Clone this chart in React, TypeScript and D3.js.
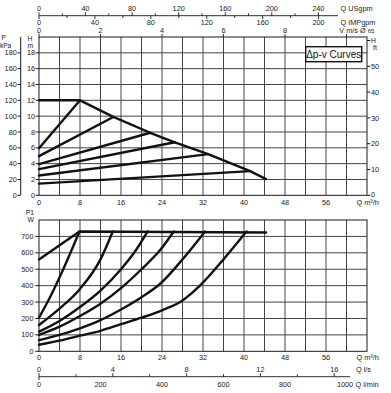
import * as d3 from "d3";

// ---- data ----
const qTicks = [0, 8, 16, 24, 32, 40, 48, 56];
const hTicks = [0, 2, 4, 6, 8, 10, 12, 14, 16, 18];
const kpaTicks = [0, 20, 40, 60, 80, 100, 120, 140, 160, 180];
const ftTicks = [0, 10, 20, 30, 40, 50];
const pTicks = [0, 100, 200, 300, 400, 500, 600, 700];
const usTicks = [0, 40, 80, 120, 160, 200, 240];
const impTicks = [0, 40, 80, 120, 160, 200];
const vTicks = [0, 2, 4, 6, 8];
const lsTicks = [0, 4, 8, 12, 16];
const lminTicks = [0, 200, 400, 600, 800, 1000];

// max head curve, Q m3/h vs H m
const maxHead: [number, number][] = [
  [0, 12], [8, 12], [14.5, 9.9], [21.7, 7.9], [26.5, 6.7], [33, 5.2], [41.2, 3.05], [44.3, 2.05],
];
// delta p-v lines: head at Q=0, end point on max curve
const dpvStart = [5.95, 4.95, 3.95, 3.3, 2.5, 1.47];
const dpvEnd: [number, number][] = [
  [8, 12], [14.5, 9.9], [21.7, 7.9], [26.5, 6.7], [33, 5.2], [41.2, 3.05],
];

// power P1 W
const maxPower: [number, number][] = [[0, 560], [7.9, 730], [44.3, 724]];
const powerCurves: [number, number][][] = [
  [[0, 205], [2, 320], [4, 450], [6, 590], [7.9, 730]],
  [[0, 160], [4, 260], [8, 380], [12, 560], [14.4, 730]],
  [[0, 120], [4, 185], [8, 270], [12, 370], [16, 500], [19, 620], [21.2, 730]],
  [[0, 100], [4, 150], [8, 215], [12, 290], [16, 385], [20, 500], [23.6, 615], [26.3, 730]],
  [[0, 68], [4, 100], [8, 140], [12, 190], [16, 255], [20, 330], [23.6, 410], [28.2, 567], [32.4, 730]],
  [[0, 40], [4, 65], [8, 95], [12, 125], [16, 165], [20, 205], [24, 250], [28, 310], [31.4, 400], [36, 560], [40.5, 730]],
];

const X0 = 39;
const X1 = 367;
const font = "'Liberation Sans', Arial, sans-serif";
const ink = "#1a1a1a";
const gridC = "#444";

export default function App() {
  const x = d3.scaleLinear().domain([0, 64]).range([X0, X1]);
  const yH = d3.scaleLinear().domain([0, 20]).range([195.3, 37]);
  const yKpa = d3.scaleLinear().domain([0, 200]).range([195.3, 37]);
  const yFt = d3.scaleLinear().domain([0, 60]).range([195.3, 40.5]);
  const yP = d3.scaleLinear().domain([0, 800]).range([351.3, 220]);
  const xUs = d3.scaleLinear().domain([0, 64 * 4.403]).range([X0, X1]);
  const xImp = d3.scaleLinear().domain([0, 64 * 3.666]).range([X0, X1]);
  const xV = d3.scaleLinear().domain([0, 64 / 6]).range([X0, X1]);
  const xLs = d3.scaleLinear().domain([0, 64 / 3.6]).range([X0, X1]);
  const xLmin = d3.scaleLinear().domain([0, 64 * 16.667]).range([X0, X1]);

  const lineH = d3.line<[number, number]>().x((d) => x(d[0])).y((d) => yH(d[1]));
  const lineP = d3.line<[number, number]>().x((d) => x(d[0])).y((d) => yP(d[1]));
  const curveP = d3
    .line<[number, number]>()
    .x((d) => x(d[0]))
    .y((d) => yP(d[1]))
    .curve(d3.curveMonotoneX);

  const vGrid = d3.range(4, 64, 4);
  const hGrid = d3.range(2, 20, 2);
  const pGrid = d3.range(100, 800, 100);

  const txt = { fontFamily: font, fontSize: 7.3, fill: ink };
  const small = { fontFamily: font, fontSize: 6.8, fill: ink };
  const tiny = { fontFamily: font, fontSize: 6.5, fill: ink };
  const curveStyle = { fill: "none", stroke: "#111", strokeWidth: 2.4, strokeLinejoin: "round" as const, strokeLinecap: "round" as const };

  const usMinor = d3.range(0, 250, 20);
  const impMinor = d3.range(0, 220, 20);
  const lsMinor = d3.range(0, 17, 2);
  const vMinor = [2, 4, 6, 8, 10];

  return (
    <svg width={391} height={393} style={{ position: "absolute", left: 0, top: 0, background: "#fff" }}>
      {/* ---------- top plot grid ---------- */}
      {vGrid.map((q) => (
        <line key={"tv" + q} x1={x(q)} x2={x(q)} y1={yH(20)} y2={yH(0)} stroke={gridC} strokeWidth={1} />
      ))}
      {hGrid.map((h) => (
        <line key={"th" + h} x1={X0} x2={X1} y1={yH(h)} y2={yH(h)} stroke={gridC} strokeWidth={1} />
      ))}
      <rect x={X0} y={yH(20)} width={X1 - X0} height={yH(0) - yH(20)} fill="none" stroke={ink} strokeWidth={1} />

      {/* ---------- lower plot grid ---------- */}
      {vGrid.map((q) => (
        <line key={"bv" + q} x1={x(q)} x2={x(q)} y1={yP(800)} y2={yP(0)} stroke={gridC} strokeWidth={1} />
      ))}
      {pGrid.map((p) => (
        <line key={"bh" + p} x1={X0} x2={X1} y1={yP(p)} y2={yP(p)} stroke={gridC} strokeWidth={1} />
      ))}
      <rect x={X0} y={yP(800)} width={X1 - X0} height={yP(0) - yP(800)} fill="none" stroke={ink} strokeWidth={1} />

      {/* ---------- top curves ---------- */}
      <path d={lineH(maxHead) || ""} {...curveStyle} />
      {dpvStart.map((h0, i) => (
        <path key={"dp" + i} d={lineH([[0, h0], dpvEnd[i]]) || ""} {...curveStyle} />
      ))}

      {/* ---------- power curves ---------- */}
      <path d={lineP(maxPower) || ""} {...curveStyle} />
      {powerCurves.map((c, i) => (
        <path key={"pc" + i} d={curveP(c) || ""} {...curveStyle} />
      ))}

      {/* legend box */}
      <rect x={305.7} y={46.7} width={56} height={15} fill="#fff" stroke="#111" strokeWidth={1.4} />
      <text x={333.7} y={57.8} textAnchor="middle" style={{ fontFamily: font, fontSize: 10, fill: "#111" }}>
        Δp-v Curves
      </text>

      {/* ---------- left axes top ---------- */}
      <line x1={20.7} x2={20.7} y1={yKpa(200)} y2={yKpa(0)} stroke={ink} strokeWidth={1} />
      {kpaTicks.map((k) => (
        <g key={"k" + k}>
          <line x1={17.5} x2={20.7} y1={yKpa(k)} y2={yKpa(k)} stroke={ink} />
          <text x={16.8} y={yKpa(k) + 2.6} textAnchor="end" style={txt}>{k}</text>
        </g>
      ))}
      <text x={1.5} y={40.3} style={tiny}>P</text>
      <text x={0} y={47.6} style={tiny}>kPa</text>
      {hTicks.map((h) => (
        <g key={"h" + h}>
          <line x1={35.6} x2={X0} y1={yH(h)} y2={yH(h)} stroke={ink} />
          <text x={35} y={yH(h) + 2.6} textAnchor="end" style={txt}>{h}</text>
        </g>
      ))}
      <text x={27.5} y={40.6} style={small}>H</text>
      <text x={27.5} y={48.2} style={small}>m</text>

      {/* right ft axis */}
      {ftTicks.map((f) => (
        <g key={"f" + f}>
          <line x1={X1} x2={370.3} y1={yFt(f)} y2={yFt(f)} stroke={ink} />
          <text x={371} y={yFt(f) + (f === 0 ? 2 : 2.6)} style={txt}>{f}</text>
        </g>
      ))}
      <line x1={X1} x2={370.3} y1={yFt(60)} y2={yFt(60)} stroke={ink} />
      <text x={371} y={42.6} style={small}>H</text>
      <text x={373} y={50} style={small}>ft</text>

      {/* top plot x labels */}
      {qTicks.map((q) => (
        <text key={"qt" + q} x={x(q)} y={204.8} textAnchor="middle" style={txt}>{q}</text>
      ))}
      <text x={356.5} y={205.4} style={txt}>Q m³/h</text>

      {/* ---------- top axes ---------- */}
      <line x1={X0} x2={338} y1={15.7} y2={15.7} stroke={ink} strokeWidth={0.9} />
      {usMinor.map((u) => (
        <line key={"us" + u} x1={xUs(u)} x2={xUs(u)} y1={15.7} y2={u % 40 === 0 ? 12.3 : 13.4} stroke={ink} strokeWidth={0.9} />
      ))}
      {impMinor.map((u) => (
        <line key={"im" + u} x1={xImp(u)} x2={xImp(u)} y1={15.7} y2={u % 40 === 0 ? 19.1 : 18} stroke={ink} strokeWidth={0.9} />
      ))}
      {usTicks.map((u) => (
        <text key={"ust" + u} x={xUs(u)} y={11.4} textAnchor="middle" style={txt}>{u}</text>
      ))}
      {impTicks.map((u) => (
        <text key={"imt" + u} x={xImp(u)} y={24.7} textAnchor="middle" style={txt}>{u}</text>
      ))}
      <text x={340.5} y={11.4} style={txt}>Q USgpm</text>
      <text x={340.5} y={24.7} style={txt}>Q IMPgpm</text>
      {vMinor.map((v) => (
        <line key={"vm" + v} x1={xV(v)} x2={xV(v)} y1={yH(20)} y2={yH(20) - 3} stroke={ink} strokeWidth={0.9} />
      ))}
      <line x1={X0} x2={X0} y1={yH(20)} y2={yH(20) - 3.5} stroke={ink} strokeWidth={0.9} />
      {vTicks.map((v) => (
        <text key={"vt" + v} x={xV(v)} y={33.4} textAnchor="middle" style={txt}>{v}</text>
      ))}
      <text x={339.3} y={33.4} style={txt}>
        V m/s Ø <tspan style={{ fontSize: 5.8 }}>65</tspan>
      </text>

      {/* ---------- lower left axis ---------- */}
      {pTicks.map((p) => (
        <g key={"p" + p}>
          <line x1={35.3} x2={X0} y1={yP(p)} y2={yP(p)} stroke={ink} />
          <text x={33.5} y={yP(p) + 2.6} textAnchor="end" style={txt}>{p}</text>
        </g>
      ))}
      <text x={34} y={214.8} textAnchor="end" style={small}>P1</text>
      <text x={34} y={221.6} textAnchor="end" style={small}>W</text>

      {qTicks.map((q) => (
        <text key={"qb" + q} x={x(q)} y={360} textAnchor="middle" style={txt}>{q}</text>
      ))}
      <text x={356.5} y={360} style={txt}>Q m³/h</text>

      {/* ---------- bottom axes ---------- */}
      <line x1={X0} x2={350} y1={376.7} y2={376.7} stroke={ink} strokeWidth={0.9} />
      {lsMinor.map((l) => (
        <line key={"ls" + l} x1={xLs(l)} x2={xLs(l)} y1={376.7} y2={l % 4 === 0 ? 373.2 : 374.3} stroke={ink} strokeWidth={0.9} />
      ))}
      <line x1={X0} x2={X0} y1={376.7} y2={380} stroke={ink} strokeWidth={0.9} />
      {lsTicks.map((l) => (
        <text key={"lst" + l} x={xLs(l)} y={371.6} textAnchor="middle" style={txt}>{l}</text>
      ))}
      {lminTicks.map((l) => (
        <text key={"lmt" + l} x={l === 1000 ? xLmin(l) - 1.5 : xLmin(l)} y={387} textAnchor="middle" style={txt}>{l}</text>
      ))}
      <text x={356} y={371.6} style={txt}>Q l/s</text>
      <text x={355.5} y={387} style={txt}>Q l/min</text>
    </svg>
  );
}
